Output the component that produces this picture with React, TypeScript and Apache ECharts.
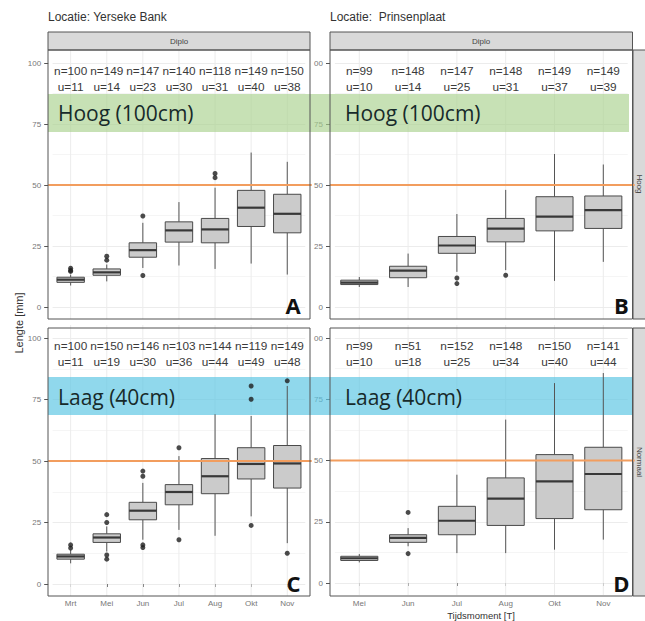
import React, { useEffect, useRef } from "react";
import * as echarts from "echarts";

// ---------- categories ----------
const leftCats = ["Mrt", "Mei", "Jun", "Jul", "Aug", "Okt", "Nov"];
const rightCats = ["Mei", "Jun", "Jul", "Aug", "Okt", "Nov"];

// ---------- boxes: [lower whisker, Q1, median, Q3, upper whisker] ----------
const boxesA = [
  [8.8, 10.1, 11.2, 12.2, 13.3],
  [10.5, 13.0, 14.2, 15.6, 17.4],
  [16.0, 20.4, 23.3, 26.3, 34.5],
  [17.0, 26.6, 31.4, 34.9, 43.0],
  [15.6, 26.3, 31.8, 36.3, 48.9],
  [17.8, 33.0, 40.7, 47.8, 63.3],
  [13.3, 30.4, 38.2, 46.2, 59.5],
];
const boxesB = [
  [8.2, 9.2, 10.0, 11.0, 12.3],
  [8.2, 12.0, 14.9, 16.7, 21.9],
  [14.4, 22.0, 25.2, 28.9, 38.1],
  [15.1, 26.7, 32.1, 36.3, 48.0],
  [10.7, 31.2, 37.0, 45.2, 62.7],
  [18.5, 32.2, 39.7, 45.5, 58.4],
];
const boxesC = [
  [8.4, 10.1, 11.2, 12.1, 13.9],
  [13.2, 16.9, 18.9, 20.4, 23.4],
  [18.0, 26.1, 29.8, 33.2, 41.1],
  [22.0, 32.2, 37.4, 40.4, 52.0],
  [19.6, 36.7, 43.8, 51.0, 69.0],
  [27.5, 42.7, 48.8, 55.4, 68.3],
  [16.6, 39.0, 49.0, 56.3, 80.5],
];
const boxesD = [
  [8.4, 9.2, 10.1, 10.9, 11.8],
  [15.0, 16.6, 18.4, 19.7, 22.4],
  [12.2, 19.7, 25.4, 31.3, 44.2],
  [12.2, 23.5, 34.4, 42.9, 66.7],
  [13.6, 26.3, 41.5, 52.4, 81.6],
  [17.7, 29.9, 44.5, 55.4, 85.7],
];

// ---------- outliers: [category index, value] ----------
const outA = [[0, 15.9], [0, 15.0], [0, 14.6], [1, 20.8], [1, 19.2], [2, 37.3], [2, 12.9], [4, 54.7], [4, 53.0]];
const outB = [[2, 11.9], [2, 9.6], [3, 13.0]];
const outC = [
  [0, 15.9], [0, 14.6], [1, 25.0], [1, 28.2], [1, 11.8], [1, 10.1],
  [2, 45.9], [2, 43.8], [2, 15.9], [2, 14.8], [3, 55.4], [3, 18.0],
  [5, 80.5], [5, 75.1], [5, 23.8], [6, 82.6], [6, 12.5],
];
const outD = [[1, 28.8], [1, 12.0]];

// ---------- n / u counts ----------
const nA = [100, 149, 147, 140, 118, 149, 150];
const uA = [11, 14, 23, 30, 31, 40, 38];
const nB = [99, 148, 147, 148, 149, 149];
const uB = [10, 14, 25, 31, 37, 39];
const nC = [100, 150, 146, 103, 144, 119, 149];
const uC = [11, 19, 30, 36, 44, 49, 48];
const nD = [99, 51, 152, 148, 150, 141];
const uD = [10, 18, 25, 34, 40, 44];

const yTicks = [0, 25, 50, 75, 100];
const refLevel = 50;

const FONT = '"Liberation Sans", Arial, sans-serif';

type Panel = {
  cats: string[];
  boxes: number[][];
  outs: number[][];
  n: number[];
  u: number[];
  grid: any;
  isLeft: boolean;
  isBottom: boolean;
};

export default function App() {
  const ref = useRef<HTMLDivElement>(null);

  useEffect(() => {
    if (!ref.current) return;
    const chart = echarts.init(ref.current, null, { renderer: "svg" });

    const panels: Panel[] = [
      { cats: leftCats, boxes: boxesA, outs: outA, n: nA, u: uA, grid: { left: 52.6, top: 63, width: 252.7, height: 244 }, isLeft: true, isBottom: false },
      { cats: rightCats, boxes: boxesB, outs: outB, n: nB, u: uB, grid: { left: 334.9, top: 63, width: 292.8, height: 244 }, isLeft: false, isBottom: false },
      { cats: leftCats, boxes: boxesC, outs: outC, n: nC, u: uC, grid: { left: 52.6, top: 338, width: 252.7, height: 246 }, isLeft: true, isBottom: true },
      { cats: rightCats, boxes: boxesD, outs: outD, n: nD, u: uD, grid: { left: 334.9, top: 338, width: 292.8, height: 245 }, isLeft: false, isBottom: true },
    ];

    const grids: any[] = [];
    const xAxes: any[] = [];
    const yAxes: any[] = [];
    const series: any[] = [];

    panels.forEach((p, gi) => {
      const padX = p.isLeft ? 4.4 : 4.9;
      grids.push({ ...p.grid, containLabel: false, outerBoundsMode: "none" });
      xAxes.push({
        type: "category",
        gridIndex: gi,
        data: p.cats,
        boundaryGap: true,
        offset: p.isBottom ? (gi === 2 ? 12 : 13) : 0,
        axisLine: { show: false },
        axisTick: { show: p.isBottom, alignWithLabel: true, length: 3, lineStyle: { color: "#555" } },
        axisLabel: { show: p.isBottom, color: "#777", fontSize: 8, fontFamily: FONT, margin: 3 },
        splitLine: { show: false },
      });
      yAxes.push({
        type: "value",
        gridIndex: gi,
        min: 0,
        max: 100,
        interval: 25,
        offset: padX,
        axisLine: { show: false },
        axisTick: { show: true, length: 4, lineStyle: { color: "#555" } },
        axisLabel: {
          color: "#777",
          fontSize: 8,
          fontFamily: FONT,
          margin: 7,
          formatter: (v: number) => (!p.isLeft && v === 100 ? "00" : yTicks.includes(v) ? String(v) : ""),
        },
        splitLine: { show: true, lineStyle: { color: "#ececec", width: 1 } },
        minorTick: { show: false, splitNumber: 2 },
        minorSplitLine: { show: true, lineStyle: { color: "#f5f5f5", width: 1 } },
      });

      // vertical grid lines at category centres spanning full panel
      series.push({
        type: "custom",
        xAxisIndex: gi,
        yAxisIndex: gi,
        silent: true,
        z: 1,
        data: p.cats.map((_, i) => [i]),
        encode: { x: 0 },
        renderItem: (params: any, api: any) => {
          const cs = params.coordSys;
          const c = api.coord([api.value(0), 0]);
          return {
            type: "line",
            shape: { x1: c[0], y1: cs.y - 13, x2: c[0], y2: cs.y + cs.height + 12 },
            style: { stroke: "#ececec", lineWidth: 1 },
          };
        },
      });

      // boxes
      series.push({
        type: "custom",
        xAxisIndex: gi,
        yAxisIndex: gi,
        z: 11,
        data: p.boxes.map((b, i) => [i, ...b]),
        encode: { x: 0, y: [1, 2, 3, 4, 5] },
        renderItem: (params: any, api: any) => {
          const xi = api.value(0);
          const lo = api.coord([xi, api.value(1)]);
          const q1 = api.coord([xi, api.value(2)]);
          const md = api.coord([xi, api.value(3)]);
          const q3 = api.coord([xi, api.value(4)]);
          const hi = api.coord([xi, api.value(5)]);
          const w = api.size([1, 0])[0] * 0.76;
          const cx = lo[0];
          return {
            type: "group",
            children: [
              { type: "line", shape: { x1: cx, y1: lo[1], x2: cx, y2: q1[1] }, style: { stroke: "#555", lineWidth: 1 } },
              { type: "line", shape: { x1: cx, y1: q3[1], x2: cx, y2: hi[1] }, style: { stroke: "#555", lineWidth: 1 } },
              { type: "rect", shape: { x: cx - w / 2, y: q3[1], width: w, height: q1[1] - q3[1] }, style: { fill: "#cbcbcb", stroke: "#4a4a4a", lineWidth: 1 } },
              { type: "line", shape: { x1: cx - w / 2, y1: md[1], x2: cx + w / 2, y2: md[1] }, style: { stroke: "#383838", lineWidth: 2.2 } },
            ],
          };
        },
      });

      // outliers
      series.push({
        type: "scatter",
        xAxisIndex: gi,
        yAxisIndex: gi,
        z: 12,
        symbolSize: 5,
        itemStyle: { color: "#1e1e1e" },
        data: p.outs,
      });

      // reference line at 50 spanning the panel
      series.push({
        type: "custom",
        xAxisIndex: gi,
        yAxisIndex: gi,
        silent: true,
        z: 13,
        data: [[0, refLevel]],
        encode: { x: 0, y: 1 },
        renderItem: (params: any, api: any) => {
          const cs = params.coordSys;
          const c = api.coord([0, api.value(1)]);
          return {
            type: "line",
            shape: { x1: cs.x - padX, y1: c[1], x2: cs.x + cs.width + padX + 2, y2: c[1] },
            style: { stroke: "#f29d5e", lineWidth: 2 },
          };
        },
      });

      // n / u labels
      series.push({
        type: "custom",
        xAxisIndex: gi,
        yAxisIndex: gi,
        silent: true,
        z: 5,
        data: p.cats.map((_, i) => [i, p.n[i], p.u[i]]),
        encode: { x: 0 },
        renderItem: (params: any, api: any) => {
          const xi = api.value(0);
          const a = api.coord([xi, 96.7]);
          const b = api.coord([xi, 90.2]);
          const st = { fill: "#3a3a3a", font: `11.8px ${FONT}`, textAlign: "center", align: "center", textVerticalAlign: "middle", verticalAlign: "middle" };
          return {
            type: "group",
            children: [
              { type: "text", x: a[0], y: a[1], style: { ...st, text: "n=" + api.value(1) } },
              { type: "text", x: b[0], y: b[1], style: { ...st, text: "u=" + api.value(2) } },
            ],
          };
        },
      });
    });

    const txt = (text: string, x: number, y: number, font: string, fill: string, align = "left", vAlign = "middle", rotation = 0, z = 15) => ({
      type: "text",
      x,
      y,
      rotation,
      z,
      style: { text, font, fill, textAlign: align, align, textVerticalAlign: vAlign, verticalAlign: vAlign },
    });
    const rect = (x: number, y: number, w: number, h: number, style: any, z: number) => ({
      type: "rect",
      z,
      shape: { x, y, width: w, height: h },
      style,
      silent: true,
    });

    const stripStyle = { fill: "#d9d9d9", stroke: "#555", lineWidth: 1 };
    const borderStyle = { fill: "none", stroke: "#555", lineWidth: 1 };

    const graphics: any[] = [
      txt("Locatie: Yerseke Bank", 48, 17, `12px ${FONT}`, "#333"),
      txt("Locatie:  Prinsenplaat", 330, 17, `12px ${FONT}`, "#333"),
      rect(48, 32, 262, 18, stripStyle, 12),
      rect(330, 32, 302.5, 18, stripStyle, 12),
      txt("Diplo", 179, 41, `8px ${FONT}`, "#444", "center"),
      txt("Diplo", 481, 41, `8px ${FONT}`, "#444", "center"),
      rect(633, 50, 14, 269, stripStyle, 12),
      rect(633, 328, 14, 268, stripStyle, 12),
      txt("Hoog", 639.5, 184, `8px ${FONT}`, "#444", "center", "middle", -Math.PI / 2),
      txt("Normaal", 639.5, 462, `8px ${FONT}`, "#444", "center", "middle", -Math.PI / 2),
      // bands
      rect(48, 94, 581, 38, { fill: "#a9d18e", opacity: 0.65 }, 10),
      rect(48, 377, 584, 38, { fill: "#5bc6e3", opacity: 0.68 }, 10),
      txt("Hoog (100cm)", 58, 113, `21px "Open Sans", sans-serif`, "#172a2a"),
      txt("Hoog (100cm)", 345, 113, `21px "Open Sans", sans-serif`, "#172a2a"),
      txt("Laag (40cm)", 58, 397, `21px "Open Sans", sans-serif`, "#172a2a"),
      txt("Laag (40cm)", 345, 397, `21px "Open Sans", sans-serif`, "#172a2a"),
      // panel borders
      rect(48, 50, 262, 269, borderStyle, 20),
      rect(330, 50, 302.5, 269, borderStyle, 20),
      rect(48, 328, 262, 268, borderStyle, 20),
      rect(330, 328, 302.5, 268, borderStyle, 20),
      // panel letters
      txt("A", 293, 305, `bold 22px "Open Sans", sans-serif`, "#111", "center"),
      txt("B", 621.5, 305, `bold 22px "Open Sans", sans-serif`, "#111", "center"),
      txt("C", 293.5, 583, `bold 22px "Open Sans", sans-serif`, "#111", "center"),
      txt("D", 621.5, 583, `bold 22px "Open Sans", sans-serif`, "#111", "center"),
      // axis titles
      txt("Lengte [mm]", 19, 323, `11px ${FONT}`, "#333", "center", "middle", Math.PI / 2),
      txt("Tijdsmoment [T]", 481, 620.5, `9.5px ${FONT}`, "#333", "center", "bottom"),
    ];

    chart.setOption({
      animation: false,
      backgroundColor: "#ffffff",
      grid: grids,
      xAxis: xAxes,
      yAxis: yAxes,
      series,
      graphic: { elements: graphics },
    });

    return () => chart.dispose();
  }, []);

  return (
    <div
      ref={ref}
      style={{ position: "fixed", left: 0, top: 0, width: 645, height: 621, background: "#fff" }}
    />
  );
}
